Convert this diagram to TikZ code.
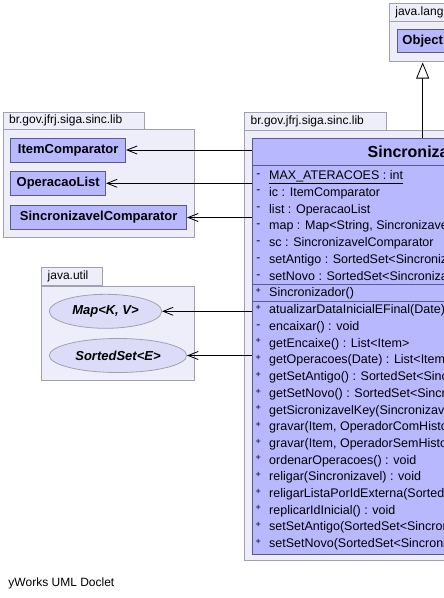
\documentclass[tikz,border=0pt]{standalone}
\usepackage{fontspec}
\setmainfont{Liberation Sans}
\usetikzlibrary{arrows.meta,shapes.geometric}
\definecolor{pkgfill}{RGB}{238,238,250}
\definecolor{pkgline}{RGB}{160,160,176}
\definecolor{clsfill}{RGB}{184,184,255}
\definecolor{clsline}{RGB}{90,90,140}
\definecolor{ellfill}{RGB}{220,220,248}
\definecolor{ellline}{RGB}{160,160,176}
\begin{document}
\begin{tikzpicture}[x=1pt,y=-1pt,
  pkg/.style={draw=pkgline, fill=pkgfill, line width=0.8pt, inner sep=0pt, anchor=north west},
  pkgtab/.style={pkg, inner xsep=6pt, inner ysep=0pt, align=left, font=\fontsize{12}{14}\selectfont, minimum height=17.5pt},
  cls/.style={draw=clsline, fill=clsfill, line width=0.8pt, inner sep=0pt, minimum height=24pt, font=\bfseries\fontsize{13}{15}\selectfont},
  iface/.style={ellipse, draw=ellline, fill=ellfill, line width=0.8pt, inner sep=0pt, font=\bfseries\itshape\fontsize{13}{15}\selectfont},
  sep/.style={draw=clsline, line width=0.8pt},
  mem/.style={anchor=base west, inner sep=0pt, font=\fontsize{12.5}{14}\selectfont},
  vism/.style={anchor=base, inner sep=0pt, font=\fontsize{12}{14}\selectfont},
  visp/.style={anchor=base, inner sep=0pt, font=\fontsize{9}{11}\selectfont},
  dep/.style={-{Straight Barb[length=10pt,width=8pt]}, line width=0.8pt},
  inh/.style={-{Triangle[open, fill=white, length=16pt, width=13pt]}, line width=0.8pt}
]
\useasboundingbox (0,0) rectangle (444,598);
\clip (0,0) rectangle (444,598);
\fill[white] (0,0) rectangle (444,598);

% java.lang package
\node[pkg, minimum width=120pt, minimum height=41pt] (lang) at (389,20) {};
\node[pkgtab, text width=48pt] (langtab) at (389,3) {java.lang};
\node[cls, minimum width=51.4pt, minimum height=23pt] (obj) at (422.7,41) {Object};

% left lib package
\node[pkg, minimum width=191.6pt, minimum height=107.7pt] (libL) at (2.7,129) {};
\node[pkgtab, text width=129.3pt] (libLtab) at (2.7,111.7) {br.gov.jfrj.siga.sinc.lib};
\node[cls, minimum width=115pt] (ic) at (68.2,150) {ItemComparator};
\node[cls, minimum width=95pt] (ol) at (58.2,183.3) {OperacaoList};
\node[cls, minimum width=176pt] (sc) at (98.7,217.5) {SincronizavelComparator};

% java.util package
\node[pkg, minimum width=153pt, minimum height=94pt] (util) at (41.3,286) {};
\node[pkgtab, text width=48.4pt] (utiltab) at (41.3,267.3) {java.util};
\node[iface, minimum width=112.4pt, minimum height=34pt] (map) at (105.5,311.3) {Map<K, V>};
\node[iface, minimum width=137.4pt, minimum height=34pt] (sset) at (118,355.5) {SortedSet<E>};

% right lib package
\node[pkg, minimum width=260pt, minimum height=430pt] (libR) at (244.3,129.5) {};
\node[pkgtab, text width=129.4pt] (libRtab) at (244.3,112) {br.gov.jfrj.siga.sinc.lib};

% Sincronizador class
\node[cls, anchor=north west, minimum width=260pt, minimum height=416.3pt] (sync) at (252.3,137.7) {};
\node[anchor=west, inner sep=0pt, font=\bfseries\fontsize{16}{19}\selectfont] (syncname) at (367.5,152) {Sincronizador};
\draw[sep] (252.3,165.7) -- (520,165.7);
\draw[sep] (252.3,284.5) -- (520,284.5);
\draw[sep] (252.3,301) -- (520,301);

% attributes
\node[vism] (av0) at (258.3,177) {-};
\node[mem] (a0) at (269,179.3) {\underline{MAX\_ATERACOES : int}};
\foreach \t [count=\i] in {{ic : ItemComparator},{list : OperacaoList},{map : Map<String, Sincronizavel>},{sc : SincronizavelComparator},{setAntigo : SortedSet<Sincronizavel>},{setNovo : SortedSet<Sincronizavel>}}{
  \pgfmathsetmacro{\yy}{175+16.85*\i}
  \node[vism] (av\i) at (258.3,\yy+2) {-};
  \node[mem] (a\i) at (269,\yy+4.3) {\t};
}

% constructor
\node[visp] (cv) at (258.3,292.5+1) {+};
\node[mem] (c0) at (269,292.5+4.3) {Sincronizador()};

% methods
\foreach \v/\t [count=\i from 0] in {+/{atualizarDataInicialEFinal(Date) : void},-/{encaixar() : void},+/{getEncaixe() : List<Item>},+/{getOperacoes(Date) : List<Item>},+/{getSetAntigo() : SortedSet<Sincronizavel>},+/{getSetNovo() : SortedSet<Sincronizavel>},+/{getSicronizavelKey(Sincronizavel) : String},+/{gravar(Item, OperadorComHistorico) : void},+/{gravar(Item, OperadorSemHistorico) : void},+/{ordenarOperacoes() : void},+/{religar(Sincronizavel) : void},+/{religarListaPorIdExterna(SortedSet<Sincronizavel>) : void},+/{replicarIdInicial() : void},+/{setSetAntigo(SortedSet<Sincronizavel>) : void},+/{setSetNovo(SortedSet<Sincronizavel>) : void}}{
  \pgfmathsetmacro{\yy}{309.5+16.7*\i}
  \if\v+
    \node[visp] (mv\i) at (258.3,\yy+1) {+};
  \else
    \node[vism] (mv\i) at (258.3,\yy+2) {-};
  \fi
  \node[mem] (m\i) at (269,\yy+4.3) {\t};
}

% connectors
\draw[dep] (sync.west |- ic.east) -- (ic.east);
\draw[dep] (sync.west |- ol.east) -- (ol.east);
\draw[dep] (sync.west |- sc.east) -- (sc.east);
\draw[dep] (sync.west |- map.east) -- (map.east);
\draw[dep] (sync.west |- sset.east) -- (sset.east);
\coordinate (inhtip) at (422.7,62.5);
\draw[inh] (obj.south |- sync.north) -- (inhtip);

% footer
\node[anchor=base west, inner sep=0pt, font=\fontsize{12}{14}\selectfont] (credit) at (8.3,586.5) {yWorks UML Doclet};
\end{tikzpicture}
\end{document}
